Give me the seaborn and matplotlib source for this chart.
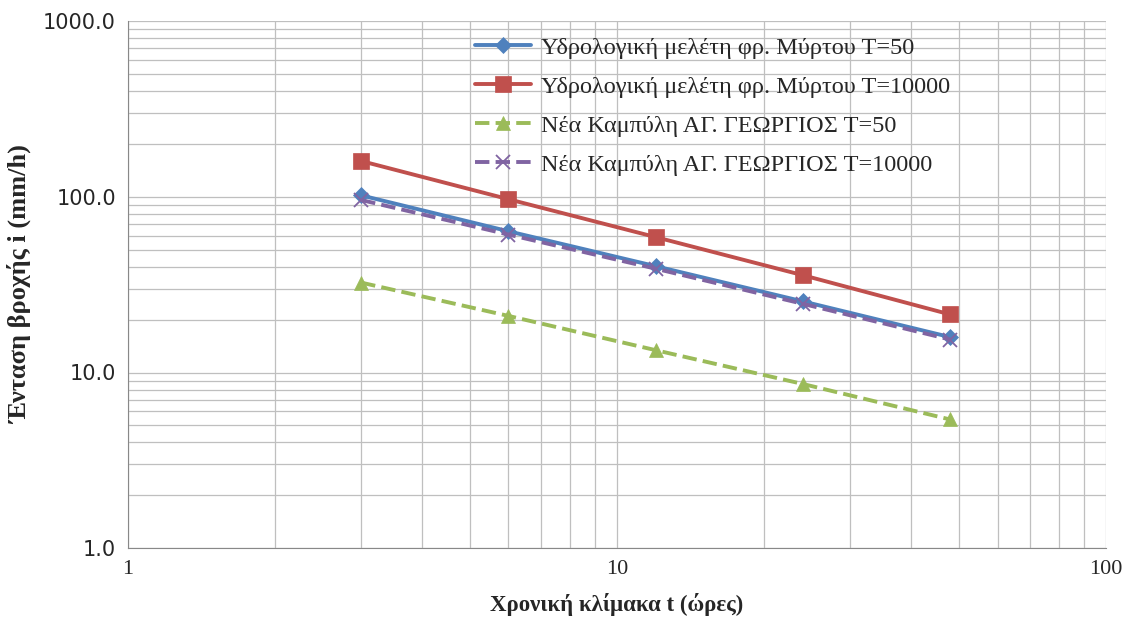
import seaborn as sb
import pandas as pd
import numpy as np
import matplotlib.pyplot as plt
from matplotlib.ticker import LogLocator, FixedLocator, NullFormatter

# durations (hours)
t = [3, 6, 12, 24, 48]

myrtou_50 = [102, 63.7, 40.3, 25.4, 15.9]
myrtou_10000 = [160, 97, 59, 35.8, 21.4]
georgios_50 = [32.5, 21.0, 13.4, 8.6, 5.4]
georgios_10000 = [96, 61, 39, 24.6, 15.4]

labels = ["Υδρολογική μελέτη φρ. Μύρτου T=50",
          "Υδρολογική μελέτη φρ. Μύρτου T=10000",
          "Νέα Καμπύλη ΑΓ. ΓΕΩΡΓΙΟΣ T=50",
          "Νέα Καμπύλη ΑΓ. ΓΕΩΡΓΙΟΣ T=10000"]

series = [myrtou_50, myrtou_10000, georgios_50, georgios_10000]
colors = ["#4F81BD", "#C0504D", "#9BBB59", "#8064A2"]
markers = ["D", "s", "^", "x"]
msizes = [8.5, 11, 10, 10]
styles = ["-", "-", "--", "--"]

sb.set_style("white")
plt.rcParams['font.family'] = ['Liberation Serif', 'DejaVu Serif']

fig = plt.figure(figsize=(11.31, 6.25), dpi=100)
ax = fig.add_axes([0.113, 0.123, 0.865, 0.843])

for vals, lab, c, m, ms, ls in zip(series, labels, colors, markers, msizes, styles):
    df = pd.DataFrame({"t": t, "i": vals})
    sb.lineplot(x="t", y="i", data=df, ax=ax, color=c, marker=m, markersize=ms,
                linestyle=ls, linewidth=2.8, label=lab,
                markeredgecolor=c, markeredgewidth=1.3 if m == "x" else 0.5)

ax.set_xscale("log")
ax.set_yscale("log")
ax.set_xlim(1, 100)
ax.set_ylim(1, 1000)

ax.xaxis.set_major_locator(FixedLocator([1, 10, 100]))
ax.xaxis.set_minor_locator(LogLocator(base=10, subs=np.arange(2, 10)))
ax.xaxis.set_minor_formatter(NullFormatter())
ax.set_xticklabels(["1", "10", "100"])
ax.yaxis.set_major_locator(FixedLocator([1, 10, 100, 1000]))
ax.yaxis.set_minor_locator(LogLocator(base=10, subs=np.arange(2, 10)))
ax.yaxis.set_minor_formatter(NullFormatter())
ax.set_yticklabels(["1.0", "10.0", "100.0", "1000.0"], family=['DejaVu Sans'])

ax.grid(True, which="both", color="#BFBFBF", linewidth=0.9)
ax.set_axisbelow(True)
for s in ["top", "right"]:
    ax.spines[s].set_visible(False)
for s in ["left", "bottom"]:
    ax.spines[s].set_color("#888888")
ax.tick_params(axis="both", which="major", length=5, color="#888888", labelsize=15)
ax.tick_params(axis="x", which="major", labelsize=16)
ax.tick_params(axis="both", which="minor", length=0)

ax.set_xlabel("Χρονική κλίμακα t (ώρες)", fontsize=16.5, fontweight="bold", labelpad=10)
ax.set_ylabel("Ένταση βροχής i (mm/h)", fontsize=19, fontweight="bold", labelpad=8)

leg = ax.legend(loc="upper left", bbox_to_anchor=(0.333, 1.012), frameon=False,
                fontsize=17.5, handlelength=2.3, handletextpad=0.4, labelspacing=0.7)

plt.savefig("out.png", dpi=100)
